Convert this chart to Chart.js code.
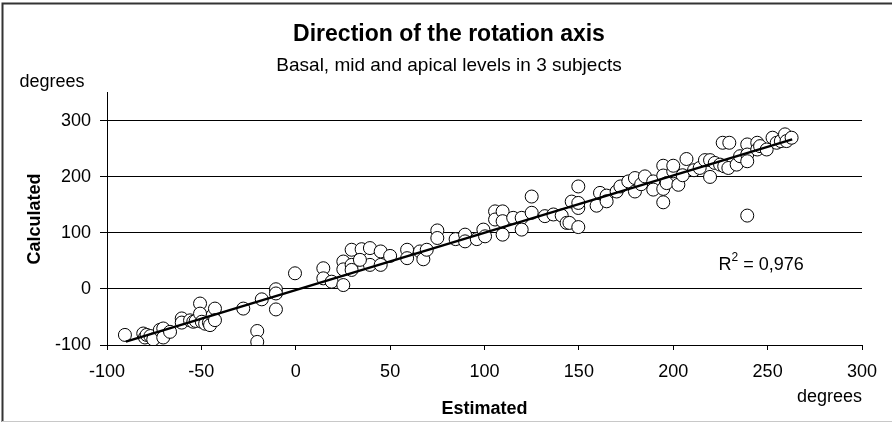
<!DOCTYPE html>
<html>
<head>
<meta charset="utf-8">
<script src="https://cdn.jsdelivr.net/npm/chart.js@4/dist/chart.umd.min.js"></script>
<style>
  body { margin: 0; background: #fff; }
  #wrap { width: 892px; height: 422px; }
</style>
</head>
<body>
<div id="wrap"><canvas id="rotChart" width="892" height="422"></canvas></div>
<script>
// estimated direction (x) vs calculated direction (y), degrees
const estimated = [
  -90.5, -80.8, -79.9, -79, -77, -75.5, -72, -70.2, -70.2, -66.6,
  -60.4, -60.4, -56, -54.3, -53, -50.7, -50.7, -49.8, -48, -46,
  -45.4, -44, -42.8, -42.8, -27.8, -20.4, -20.4, -18, -10.5, -10.5,
  -10.5, -0.4, 14.6, 14.6, 19, 25.2, 25.2, 25.2, 29.6, 29.6,
  29.6, 34.9, 39.3, 39.3, 34, 45, 45, 50, 59, 59,
  65.8, 67.6, 69.4, 75, 75, 84.7, 89.7, 89.7, 95.9, 99.4,
  100.3, 105.6, 105.6, 109.6, 109.6, 109.6, 115.2, 119.7, 119.7, 125,
  125, 132, 136.5, 140.9, 143.5, 145, 149.7, 149.7, 146.2, 149.7,
  149.7, 159.4, 161.2, 164.7, 164.7, 170, 172, 176.2, 179.7, 179.7,
  183, 185, 189.4, 189.4, 194.7, 194.7, 194.7, 194.7, 196.5, 200,
  202.7, 200, 205, 207, 211, 214, 216.8, 219.5, 219.5, 222,
  224.8, 226.2, 227, 229.7, 229.2, 233.6, 235.4, 239.2, 239.2, 239.2,
  239.2, 244.5, 244.5, 246, 249.5, 252.6, 254.8, 257, 259.2, 260,
  262.7
];
const calculated = [
  -82, -79.5, -86.6, -82, -84, -90, -73, -70.5, -86.6, -76.5,
  -52.6, -60, -56, -58.5, -57, -26, -44, -58.5, -62, -60,
  -64.5, -47, -35, -55.6, -35, -75, -94.5, -18.5, -0.5, -8,
  -36.5, 28, 37, 19, 13, 7, 49, 35, 43, 34,
  70, 71, 73, 43, 52, 67, 43, 59, 70, 55,
  67, 53, 70, 104.5, 91, 89, 97, 85, 89, 106,
  94, 138.5, 124, 138.5, 121, 97, 127, 127, 106, 165,
  136, 130, 133, 131, 118, 118, 110.5, 183, 156, 144.6,
  153.6, 148.7, 171.5, 166.7, 156.5, 174, 183, 192, 198, 174,
  187, 201, 192, 177.4, 220, 202.5, 178.7, 154.7, 189, 210,
  186, 220, 203, 232, 212, 216, 230, 230, 200, 225,
  222, 261, 219, 261, 216, 222, 237, 258, 240, 228,
  131, 261, 249, 255, 249, 270, 261, 264, 276, 264,
  270
];
// linear trend line, end points
const trendX = [-90, 263];
const trendY = [-94, 267];

const xTicks = [-100, 300, 50];   // min, max, step
const yTicks = [-100, 350, 100];
const rSquared = '0,976';

const fontName = '"Liberation Sans", Arial, Helvetica, sans-serif';

const points = estimated.map((x, i) => ({ x: x, y: calculated[i] }));
const trend = trendX.map((x, i) => ({ x: x, y: trendY[i] }));

const decor = {
  id: 'decor',
  beforeDraw(chart) {
    const ctx = chart.ctx;
    ctx.save();
    ctx.fillStyle = '#fff';
    ctx.fillRect(0, 0, chart.width, chart.height);
    ctx.restore();
  },
  afterDraw(chart) {
    const ctx = chart.ctx;
    const xs = chart.scales.x, ys = chart.scales.y;
    ctx.save();
    // chart area frame (top/left dark, bottom light)
    ctx.strokeStyle = '#333';
    ctx.lineWidth = 2;
    ctx.beginPath();
    ctx.moveTo(chart.width, 3.5);
    ctx.lineTo(2.5, 3.5);
    ctx.lineTo(2.5, chart.height);
    ctx.stroke();
    ctx.strokeStyle = '#c8c8c8';
    ctx.lineWidth = 1;
    ctx.beginPath();
    ctx.moveTo(2, chart.height - 0.5);
    ctx.lineTo(chart.width, chart.height - 0.5);
    ctx.stroke();

    ctx.fillStyle = '#000';
    ctx.font = '18px ' + fontName;
    ctx.textBaseline = 'middle';
    // unit labels
    ctx.textAlign = 'center';
    ctx.fillText('degrees', 52, 82);
    ctx.textAlign = 'right';
    ctx.fillText('degrees', xs.right, 397);

    // R squared
    let px = xs.getPixelForValue(224);
    const py = ys.getPixelForValue(43);
    ctx.textAlign = 'left';
    ctx.fillText('R', px, py);
    px += ctx.measureText('R').width;
    ctx.font = '12px ' + fontName;
    ctx.fillText('2', px, py - 7);
    px += ctx.measureText('2').width;
    ctx.font = '18px ' + fontName;
    ctx.fillText(' = ' + rSquared, px, py);
    ctx.restore();
  }
};

new Chart(document.getElementById('rotChart'), {
  type: 'scatter',
  data: {
    datasets: [
      {
        type: 'line',
        label: 'trend',
        data: trend,
        borderColor: '#000',
        borderWidth: 2.5,
        pointRadius: 0,
        fill: false
      },
      {
        label: 'points',
        data: points,
        pointRadius: 6.5,
        pointHoverRadius: 6.5,
        borderWidth: 1,
        borderColor: '#000',
        backgroundColor: '#fff'
      }
    ]
  },
  options: {
    responsive: false,
    animation: false,
    events: [],
    // left/right padding keeps titles centred on the whole picture
    layout: { padding: { left: 36, right: 30, top: 0, bottom: 0 } },
    plugins: {
      legend: { display: false },
      tooltip: { enabled: false },
      title: {
        display: true,
        text: 'Direction of the rotation axis',
        color: '#000',
        font: { family: fontName, size: 23, weight: 'bold' },
        padding: { top: 21, bottom: 6 }
      },
      subtitle: {
        display: true,
        text: 'Basal, mid and apical levels in 3 subjects',
        color: '#000',
        font: { family: fontName, size: 19 },
        padding: { top: 0, bottom: 15.5 }
      }
    },
    scales: {
      x: {
        type: 'linear',
        min: xTicks[0],
        max: xTicks[1],
        afterFit(scale) { scale.height = 77; },
        ticks: {
          stepSize: xTicks[2],
          color: '#000',
          padding: 11,
          maxRotation: 0,
          font: { family: fontName, size: 18 }
        },
        grid: {
          drawOnChartArea: false,
          drawTicks: true,
          tickLength: 5,
          color: '#000'
        },
        border: { display: true, color: '#000', width: 1 },
        title: {
          display: true,
          text: 'Estimated',
          color: '#000',
          font: { family: fontName, size: 18, weight: 'bold' },
          padding: { top: 0, bottom: 2 }
        }
      },
      y: {
        type: 'linear',
        min: yTicks[0],
        max: yTicks[1],
        afterFit(scale) { scale.width = 71; },
        afterBuildTicks(scale) {
          scale.ticks = scale.ticks.filter(t => t.value <= 300);
        },
        ticks: {
          stepSize: yTicks[2],
          color: '#000',
          padding: 9,
          font: { family: fontName, size: 18 }
        },
        grid: {
          drawTicks: true,
          tickLength: 7,
          color: '#000',
          lineWidth: 1
        },
        border: { display: true, color: '#000', width: 1 },
        title: {
          display: true,
          text: 'Calculated',
          color: '#000',
          font: { family: fontName, size: 18, weight: 'bold' },
          padding: { top: -12, bottom: 0 }
        }
      }
    }
  },
  plugins: [decor]
});
</script>
</body>
</html>
